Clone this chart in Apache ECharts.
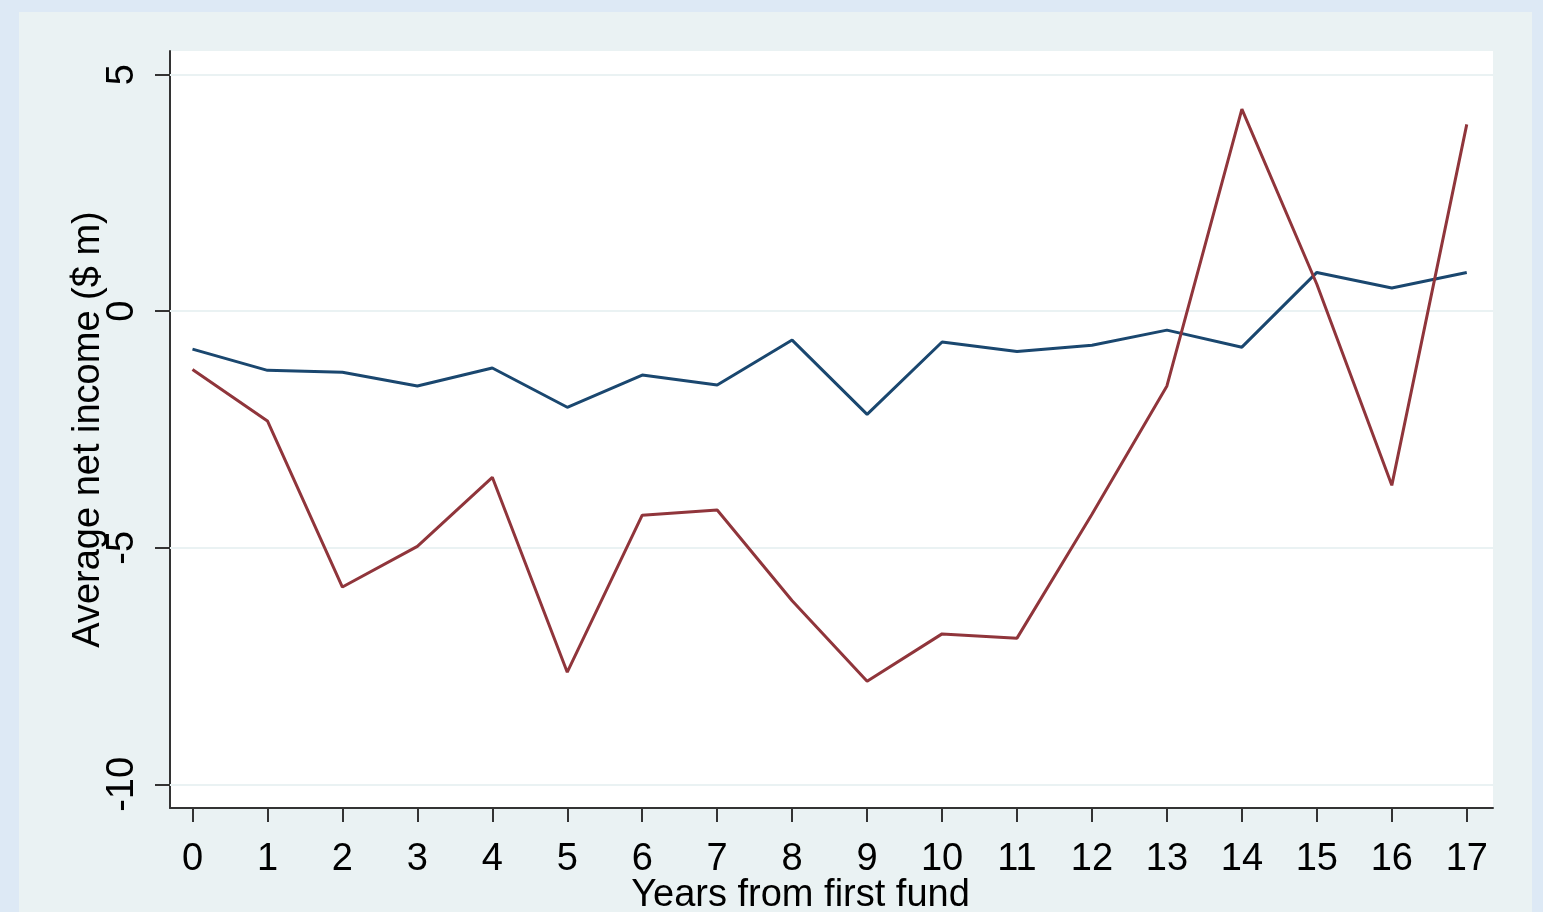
<!DOCTYPE html>
<html>
<head>
<meta charset="utf-8">
<script src="https://cdn.jsdelivr.net/npm/echarts@6/dist/echarts.min.js"></script>
<style>
html,body{margin:0;padding:0;background:#dde9f5;}
#chart{width:1543px;height:912px;}
</style>
</head>
<body>
<div id="chart"></div>
<script>
var years = [0,1,2,3,4,5,6,7,8,9,10,11,12,13,14,15,16,17];
var blueSeries = [-0.80,-1.25,-1.29,-1.58,-1.20,-2.03,-1.35,-1.56,-0.61,-2.18,-0.65,-0.85,-0.72,-0.40,-0.76,0.82,0.49,0.82];
var redSeries = [-1.23,-2.32,-5.83,-4.97,-3.51,-7.63,-4.31,-4.20,-6.12,-7.82,-6.82,-6.91,-4.29,-1.58,4.27,0.57,-3.68,3.95];
var xTicks = [0,1,2,3,4,5,6,7,8,9,10,11,12,13,14,15,16,17];
var yTicks = [-10,-5,0,5];

var chart = echarts.init(document.getElementById('chart'));
var font = 'Liberation Sans, Arial, sans-serif';
chart.setOption({
  animation: false,
  backgroundColor: '#dde9f5',
  graphic: [{
    type: 'rect', z: -10, silent: true,
    shape: {x: 19, y: 12, width: 1513, height: 910},
    style: {fill: '#eaf2f3'}
  }],
  grid: {
    left: 170, top: 51, width: 1323, height: 757,
    show: true, backgroundColor: '#ffffff', borderWidth: 0,
    containLabel: false, outerBoundsMode: 'none'
  },
  xAxis: {
    type: 'value', min: -0.3, max: 17.35,
    name: 'Years from first fund', nameLocation: 'middle', nameGap: 69, nameMoveOverlap: false,
    nameTextStyle: {fontFamily: font, fontSize: 38, color: '#000', padding: [0, 62, 0, 0]},
    axisLine: {show: true, onZero: false, lineStyle: {color: '#333', width: 2}},
    axisTick: {show: true, length: 14, lineStyle: {color: '#333', width: 2}, customValues: xTicks},
    axisLabel: {customValues: xTicks, fontFamily: font, fontSize: 38, color: '#000', margin: 33},
    splitLine: {show: false}
  },
  yAxis: {
    type: 'value', min: -10.5, max: 5.5,
    name: 'Average net income ($ m)', nameLocation: 'middle', nameGap: 62, nameRotate: 90, nameMoveOverlap: false,
    nameTextStyle: {fontFamily: font, fontSize: 38, color: '#000'},
    axisLine: {show: true, onZero: false, lineStyle: {color: '#333', width: 2}},
    axisTick: {show: true, length: 15, lineStyle: {color: '#333', width: 2}, customValues: yTicks},
    axisLabel: {customValues: yTicks, rotate: 90, fontFamily: font, fontSize: 38, color: '#000', margin: 28},
    splitLine: {show: false}
  },
  series: [{
    type: 'line', data: years.map(function(x,i){return [x, blueSeries[i]];}),
    symbol: 'none', lineStyle: {color: '#1a476f', width: 3}, z: 3,
    markLine: {
      silent: true, symbol: 'none', label: {show: false},
      lineStyle: {color: '#eaf2f3', width: 2, type: 'solid'},
      data: yTicks.map(function(v){return {yAxis: v};}),
      z: 1
    }
  }, {
    type: 'line', data: years.map(function(x,i){return [x, redSeries[i]];}),
    symbol: 'none', lineStyle: {color: '#90353b', width: 3}, z: 3
  }]
});
</script>
</body>
</html>
